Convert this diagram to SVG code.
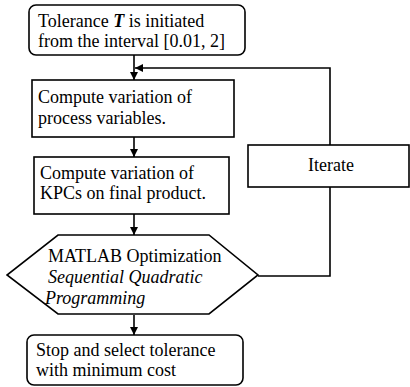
<svg xmlns="http://www.w3.org/2000/svg" width="410" height="387" viewBox="0 0 410 387">
<defs>
<marker id="ah" viewBox="0 0 10 10" refX="10" refY="5" markerWidth="8" markerHeight="8" markerUnits="userSpaceOnUse" orient="auto">
<path d="M0,0 L10,5 L0,10 Z" fill="#000"/>
</marker>
</defs>
<style>
.b{fill:#fff;stroke:#000;stroke-width:1.6}
.t{font-family:"Liberation Serif","Times New Roman",serif;font-size:18px;fill:#000}
.c{fill:none;stroke:#000;stroke-width:1.6}
</style>
<rect width="410" height="387" fill="#fff"/>
<g id="connectors">
<line class="c" x1="134" y1="55" x2="134" y2="80" marker-end="url(#ah)"/>
<line class="c" x1="134" y1="137" x2="134" y2="157" marker-end="url(#ah)"/>
<line class="c" x1="134" y1="214" x2="134" y2="235" marker-end="url(#ah)"/>
<line class="c" x1="134" y1="315" x2="134" y2="335" marker-end="url(#ah)"/>
<polyline class="c" points="258,276 330,276 330,187"/>
<polyline class="c" points="330,145 330,68 135,68" marker-end="url(#ah)"/>
</g>
<g id="start">
<rect class="b" x="29" y="5" width="216" height="50" rx="7"/>
<text class="t" x="38" y="27">Tolerance <tspan font-weight="bold" font-style="italic">T</tspan> is initiated</text>
<text class="t" x="38" y="47">from the interval [0.01, 2]</text>
</g>
<g id="process">
<rect class="b" x="32" y="80" width="202" height="57"/>
<text class="t" x="38" y="103">Compute variation of</text>
<text class="t" x="38" y="124">process variables.</text>
</g>
<g id="kpc">
<rect class="b" x="34" y="157" width="195" height="57"/>
<text class="t" x="40" y="179">Compute variation of</text>
<text class="t" x="40" y="199">KPCs on final product.</text>
</g>
<g id="optim">
<polygon class="b" points="58,235 209,235 258,275 209,314 58,314 7,275"/>
<text class="t" x="48" y="262">MATLAB Optimization</text>
<text class="t" x="48" y="283" font-style="italic">Sequential Quadratic</text>
<text class="t" x="45" y="304" font-style="italic">Programming</text>
</g>
<g id="iterate">
<rect class="b" x="248" y="145" width="161" height="42"/>
<text class="t" x="331" y="171" text-anchor="middle">Iterate</text>
</g>
<g id="stop">
<rect class="b" x="27" y="335" width="216" height="50" rx="7"/>
<text class="t" x="36" y="356">Stop and select tolerance</text>
<text class="t" x="36" y="376">with minimum cost</text>
</g>
</svg>
